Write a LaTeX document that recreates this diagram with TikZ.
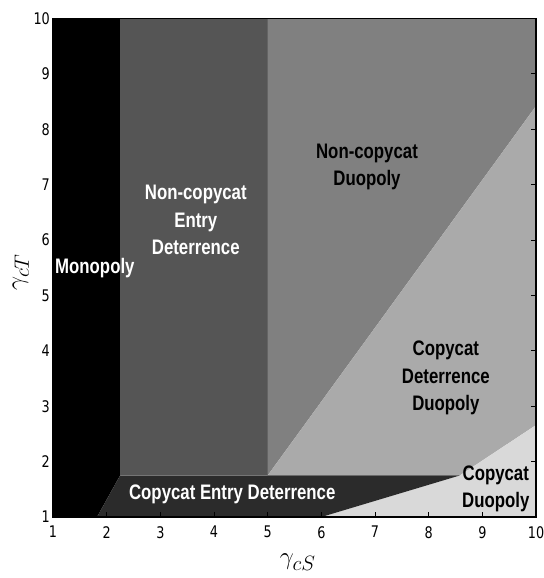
\documentclass[tikz,border=0pt]{standalone}
\usepackage{fontspec}
\newfontfamily\labfont[FakeStretch=0.8]{Liberation Sans}
\newfontfamily\tickfont[FakeStretch=0.8]{DejaVu Sans}
\definecolor{monoC}{gray}{0}
\definecolor{nceC}{gray}{0.333}
\definecolor{ncdC}{gray}{0.5}
\definecolor{cddC}{gray}{0.667}
\definecolor{cdC}{gray}{0.85}
\definecolor{ceC}{gray}{0.17}
\begin{document}
\begin{tikzpicture}[x=53.67pt, y=55.4pt,
  region/.style = {font=\labfont\bfseries\fontsize{21}{27.5}\selectfont, align=center, inner sep=0pt},
  tick/.style = {font=\tickfont\fontsize{16}{16}\selectfont, inner sep=0pt},
  axlab/.style = {font=\fontsize{32}{32}\selectfont, inner sep=0pt}]
\useasboundingbox (0.0125,-0.101) rectangle (10.13,10.332);

% regions
\fill[monoC] (1,1) -- (1,10) -- (2.25,10) -- (2.25,1.75) -- (1.82,1) -- cycle;
\fill[nceC] (2.25,1.75) rectangle (5,10);
\fill[ncdC] (5,1.75) -- (5,10) -- (10,10) -- (10,8.42) -- cycle;
\fill[cddC] (5,1.75) -- (10,8.42) -- (10,2.66) -- (8.58,1.75) -- cycle;
\fill[cdC] (6,1) -- (8.58,1.75) -- (10,2.66) -- (10,1) -- cycle;
\fill[ceC] (1.82,1) -- (2.25,1.75) -- (8.58,1.75) -- (6,1) -- cycle;

% ticks and frame
\foreach \i in {2,...,9} {
  \draw[line width=0.8pt] (\i,1) -- ++(0,5pt);
  \draw[line width=0.8pt] (10,\i) -- ++(-5pt,0);
}
\draw[line width=1.2pt] (1,1) rectangle (10,10);

\foreach \i in {1,...,10} {
  \node[tick, anchor=north] (xt\i) at (\i,1) [yshift=-9pt] {\i};
  \node[tick, anchor=east] (yt\i) at (1,\i) [xshift=-3pt] {\i};
}

% region labels
\node[region, white] (mono) at (1.78,5.49) {Monopoly};
\node[region, white] (nce) at (3.66,6.36) {Non-copycat\\Entry\\Deterrence};
\node[region] (ncd) at (6.85,7.32) {Non-copycat\\Duopoly};
\node[region] (cdd) at (8.32,3.51) {Copycat\\Deterrence\\Duopoly};
\node[region, white] (ced) at (4.34,1.40) {Copycat Entry Deterrence};
\node[region] (cd) at (9.25,1.51) {Copycat\\Duopoly};

% axis labels
\node[axlab] (xlab) at (5.56,0.19) {$\gamma_{cS}$};
\node[axlab, rotate=90] (ylab) at (0.40,5.42) {$\gamma_{cT}$};
\end{tikzpicture}
\end{document}
